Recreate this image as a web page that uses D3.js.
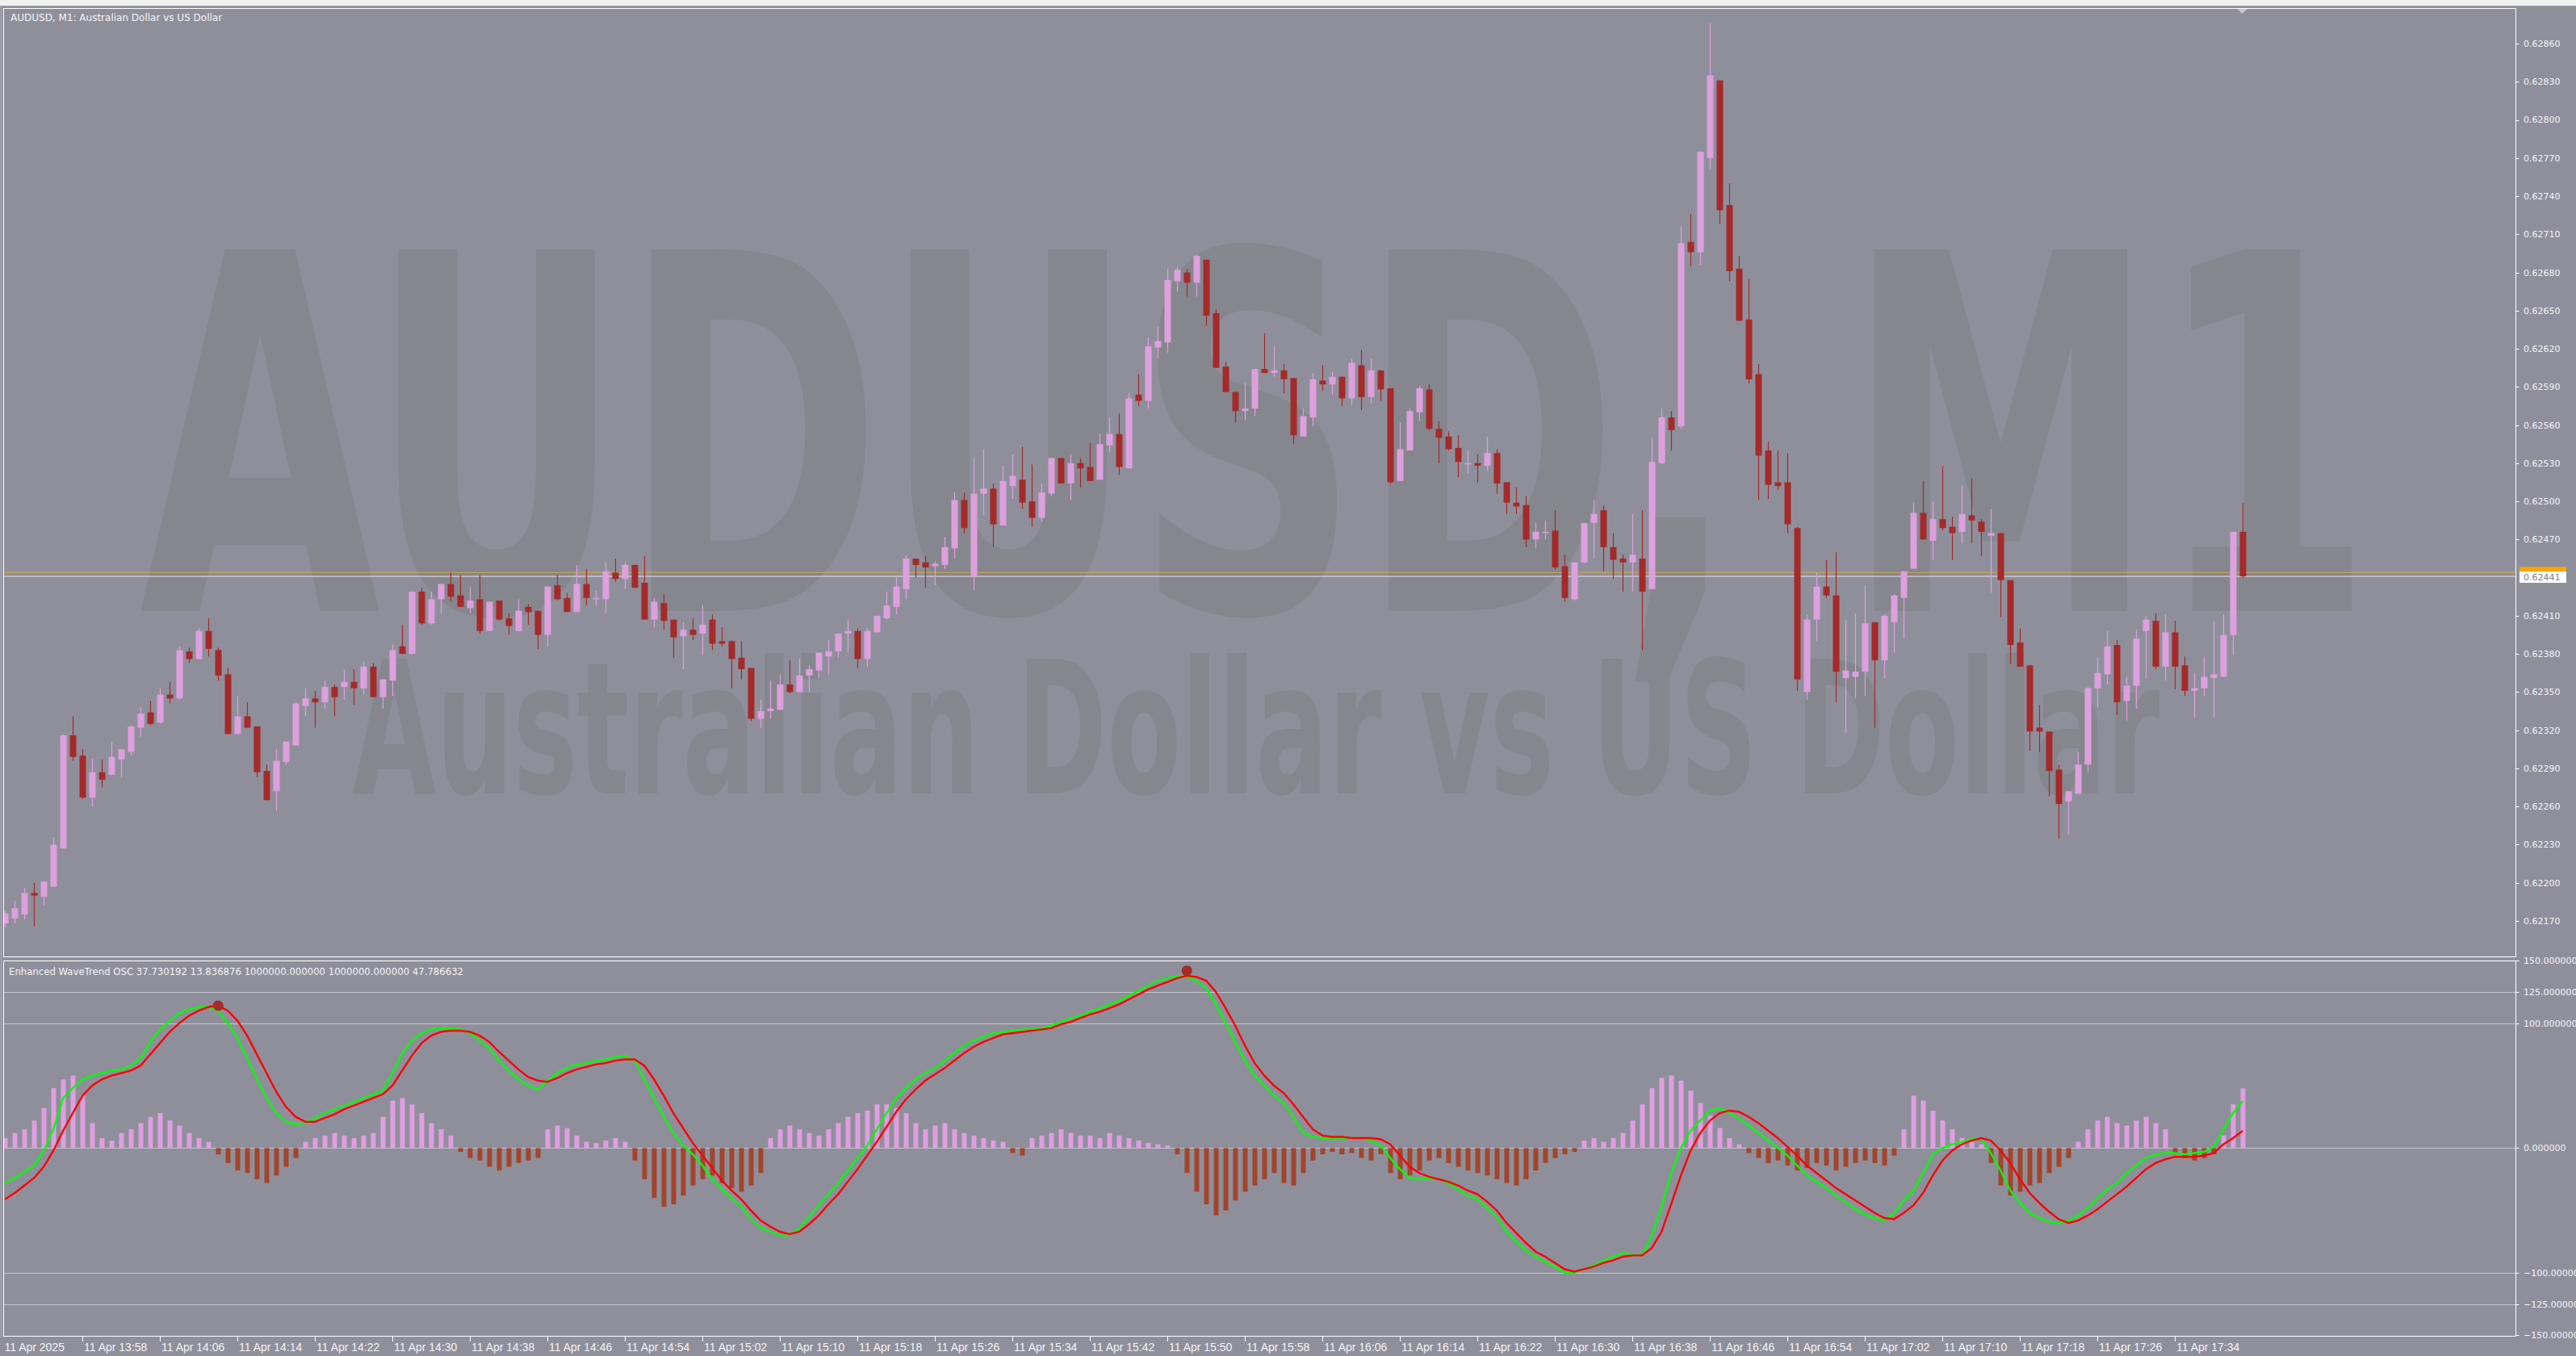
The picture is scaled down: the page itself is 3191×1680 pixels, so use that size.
<!DOCTYPE html>
<html>
<head>
<meta charset="utf-8">
<script src="https://cdn.jsdelivr.net/npm/d3@7"></script>
<style>
  body { margin: 0; background: #8f8f9c; overflow: hidden; }
</style>
</head>
<body>
<div id="chart"></div>
<script>
// ---- data ----
const chartTitle = "AUDUSD, M1:  Australian Dollar vs US Dollar";
const watermarkMain = "AUDUSD, M1";
const watermarkSub = "Australian Dollar vs US Dollar";
const oscTitle = "Enhanced WaveTrend OSC 37.730192 13.836876 1000000.000000 1000000.000000 47.786632";

const timeLabels = ["11 Apr 2025", "11 Apr 13:58", "11 Apr 14:06", "11 Apr 14:14", "11 Apr 14:22", "11 Apr 14:30",
  "11 Apr 14:38", "11 Apr 14:46", "11 Apr 14:54", "11 Apr 15:02", "11 Apr 15:10", "11 Apr 15:18", "11 Apr 15:26",
  "11 Apr 15:34", "11 Apr 15:42", "11 Apr 15:50", "11 Apr 15:58", "11 Apr 16:06", "11 Apr 16:14", "11 Apr 16:22",
  "11 Apr 16:30", "11 Apr 16:38", "11 Apr 16:46", "11 Apr 16:54", "11 Apr 17:02", "11 Apr 17:10", "11 Apr 17:18",
  "11 Apr 17:26", "11 Apr 17:34"];
// bar index of each time label
const timeLabelBars = [0, 8, 16, 24, 32, 40, 48, 56, 64, 72, 80, 88, 96, 104, 112, 120, 128, 136, 144, 152, 160,
  168, 176, 184, 192, 200, 208, 216, 224];

const priceTicks = [0.62860, 0.62830, 0.62800, 0.62770, 0.62740, 0.62710, 0.62680, 0.62650, 0.62620, 0.62590,
  0.62560, 0.62530, 0.62500, 0.62470, 0.62410, 0.62380, 0.62350, 0.62320, 0.62290, 0.62260, 0.62230, 0.62200, 0.62170];
const bidPrice = 0.62441;
const askPrice = 0.62444;

const open = [
  0.62168,0.62172,0.62175,0.62192,0.62189,0.62197,0.62227,0.62316,0.62300,0.62267,
  0.62287,0.62285,0.62297,0.62303,0.62322,0.62334,0.62326,0.62348,0.62345,0.62382,
  0.62376,0.62398,0.62383,0.62364,0.62317,0.62331,0.62323,0.62288,0.62272,0.62295,
  0.62308,0.62339,0.62345,0.62342,0.62354,0.62354,0.62358,0.62353,0.62370,0.62346,
  0.62359,0.62386,0.62380,0.62429,0.62404,0.62423,0.62435,0.62426,0.62416,0.62423,
  0.62398,0.62422,0.62408,0.62398,0.62417,0.62414,0.62395,0.62434,0.62424,0.62413,
  0.62435,0.62424,0.62423,0.62444,0.62439,0.62450,0.62436,0.62407,0.62420,0.62407,
  0.62394,0.62399,0.62396,0.62407,0.62390,0.62390,0.62377,0.62369,0.62329,0.62335,
  0.62336,0.62356,0.62350,0.62363,0.62367,0.62378,0.62382,0.62396,0.62398,0.62376,
  0.62397,0.62408,0.62417,0.62431,0.62455,0.62452,0.62449,0.62450,0.62463,0.62501,
  0.62441,0.62506,0.62510,0.62481,0.62512,0.62517,0.62500,0.62487,0.62506,0.62534,
  0.62514,0.62530,0.62527,0.62517,0.62544,0.62553,0.62526,0.62584,0.62579,0.62621,
  0.62625,0.62673,0.62680,0.62672,0.62690,0.62648,0.62606,0.62586,0.62571,0.62573,
  0.62604,0.62601,0.62603,0.62597,0.62551,0.62566,0.62595,0.62592,0.62598,0.62581,
  0.62607,0.62582,0.62603,0.62589,0.62516,0.62540,0.62570,0.62588,0.62557,0.62551,
  0.62542,0.62530,0.62530,0.62528,0.62538,0.62515,0.62499,0.62497,0.62470,0.62476,
  0.62477,0.62449,0.62423,0.62452,0.62483,0.62493,0.62464,0.62455,0.62452,0.62455,
  0.62431,0.62530,0.62566,0.62559,0.62704,0.62696,0.62770,0.62831,0.62733,0.62683,
  0.62643,0.62600,0.62540,0.62515,0.62515,0.62479,0.62350,0.62407,0.62433,0.62426,
  0.62361,0.62362,0.62366,0.62405,0.62375,0.62405,0.62424,0.62447,0.62491,0.62469,
  0.62486,0.62480,0.62476,0.62489,0.62484,0.62473,0.62475,0.62438,0.62389,0.62371,
  0.62322,0.62319,0.62289,0.62264,0.62270,0.62293,0.62353,0.62364,0.62387,0.62343,
  0.62355,0.62398,0.62406,0.62370,0.62397,0.62371,0.62351,0.62353,0.62361,0.62362,
  0.62395,0.62476];
const high = [
  0.62178,0.62186,0.62196,0.62200,0.62201,0.62236,0.62317,0.62331,0.62305,0.62298,
  0.62297,0.62311,0.62305,0.62324,0.62338,0.62343,0.62353,0.62358,0.62386,0.62385,
  0.62400,0.62408,0.62385,0.62369,0.62347,0.62342,0.62323,0.62293,0.62305,0.62311,
  0.62342,0.62353,0.62351,0.62359,0.62356,0.62368,0.62368,0.62374,0.62373,0.62360,
  0.62387,0.62403,0.62429,0.62432,0.62429,0.62435,0.62444,0.62442,0.62433,0.62442,
  0.62421,0.62422,0.62412,0.62423,0.62419,0.62414,0.62433,0.62442,0.62428,0.62450,
  0.62447,0.62430,0.62452,0.62455,0.62452,0.62450,0.62457,0.62424,0.62427,0.62407,
  0.62405,0.62408,0.62418,0.62411,0.62401,0.62391,0.62390,0.62369,0.62344,0.62359,
  0.62364,0.62375,0.62376,0.62371,0.62381,0.62391,0.62396,0.62407,0.62400,0.62400,
  0.62410,0.62429,0.62440,0.62457,0.62455,0.62457,0.62453,0.62472,0.62507,0.62507,
  0.62534,0.62541,0.62514,0.62528,0.62537,0.62543,0.62529,0.62514,0.62534,0.62534,
  0.62537,0.62534,0.62546,0.62553,0.62566,0.62569,0.62585,0.62600,0.62629,0.62637,
  0.62683,0.62684,0.62683,0.62694,0.62690,0.62651,0.62610,0.62586,0.62593,0.62604,
  0.62632,0.62622,0.62608,0.62597,0.62573,0.62601,0.62607,0.62602,0.62598,0.62612,
  0.62619,0.62612,0.62603,0.62589,0.62562,0.62573,0.62591,0.62592,0.62563,0.62555,
  0.62552,0.62540,0.62537,0.62551,0.62541,0.62515,0.62511,0.62504,0.62483,0.62485,
  0.62493,0.62458,0.62452,0.62483,0.62501,0.62497,0.62475,0.62458,0.62490,0.62493,
  0.62550,0.62573,0.62571,0.62716,0.62726,0.62775,0.62876,0.62831,0.62750,0.62693,
  0.62675,0.62608,0.62547,0.62540,0.62538,0.62480,0.62411,0.62444,0.62454,0.62460,
  0.62407,0.62412,0.62434,0.62405,0.62411,0.62427,0.62445,0.62499,0.62516,0.62500,
  0.62528,0.62488,0.62513,0.62518,0.62486,0.62494,0.62475,0.62438,0.62400,0.62371,
  0.62340,0.62319,0.62293,0.62272,0.62303,0.62354,0.62377,0.62398,0.62391,0.62362,
  0.62399,0.62410,0.62412,0.62411,0.62406,0.62378,0.62365,0.62378,0.62406,0.62411,
  0.62476,0.62499];
const low = [
  0.62165,0.62168,0.62171,0.62166,0.62182,0.62197,0.62227,0.62296,0.62266,0.62260,
  0.62275,0.62285,0.62283,0.62300,0.62315,0.62324,0.62325,0.62341,0.62344,0.62373,
  0.62376,0.62378,0.62359,0.62317,0.62317,0.62322,0.62283,0.62265,0.62257,0.62293,
  0.62308,0.62331,0.62322,0.62337,0.62331,0.62344,0.62340,0.62348,0.62346,0.62337,
  0.62347,0.62380,0.62380,0.62403,0.62403,0.62412,0.62421,0.62417,0.62412,0.62396,
  0.62398,0.62406,0.62395,0.62398,0.62403,0.62384,0.62386,0.62422,0.62413,0.62413,
  0.62418,0.62418,0.62412,0.62437,0.62431,0.62432,0.62407,0.62401,0.62399,0.62377,
  0.62368,0.62391,0.62379,0.62383,0.62386,0.62353,0.62360,0.62327,0.62322,0.62329,
  0.62336,0.62349,0.62350,0.62350,0.62361,0.62364,0.62377,0.62381,0.62369,0.62370,
  0.62397,0.62407,0.62411,0.62423,0.62440,0.62432,0.62434,0.62447,0.62455,0.62475,
  0.62430,0.62489,0.62464,0.62481,0.62502,0.62494,0.62480,0.62484,0.62504,0.62514,
  0.62501,0.62511,0.62516,0.62517,0.62539,0.62521,0.62526,0.62575,0.62573,0.62612,
  0.62617,0.62665,0.62661,0.62661,0.62638,0.62605,0.62586,0.62562,0.62564,0.62567,
  0.62601,0.62598,0.62585,0.62545,0.62551,0.62559,0.62587,0.62584,0.62575,0.62576,
  0.62572,0.62577,0.62579,0.62514,0.62516,0.62540,0.62563,0.62556,0.62530,0.62540,
  0.62519,0.62522,0.62515,0.62524,0.62506,0.62490,0.62490,0.62464,0.62463,0.62470,
  0.62446,0.62421,0.62422,0.62451,0.62455,0.62445,0.62439,0.62429,0.62429,0.62383,
  0.62431,0.62529,0.62540,0.62557,0.62685,0.62686,0.62761,0.62718,0.62673,0.62642,
  0.62593,0.62501,0.62502,0.62509,0.62475,0.62351,0.62344,0.62390,0.62424,0.62342,
  0.62318,0.62345,0.62347,0.62322,0.62361,0.62381,0.62392,0.62447,0.62470,0.62454,
  0.62477,0.62454,0.62467,0.62467,0.62457,0.62428,0.62409,0.62372,0.62370,0.62304,
  0.62303,0.62268,0.62235,0.62238,0.62270,0.62287,0.62338,0.62356,0.62332,0.62327,
  0.62337,0.62361,0.62368,0.62359,0.62352,0.62347,0.62330,0.62347,0.62330,0.62362,
  0.62379,0.62440];
const close = [
  0.62176,0.62180,0.62192,0.62190,0.62201,0.62230,0.62316,0.62299,0.62267,0.62287,
  0.62281,0.62299,0.62305,0.62323,0.62333,0.62325,0.62348,0.62345,0.62383,0.62376,
  0.62398,0.62384,0.62363,0.62317,0.62331,0.62322,0.62287,0.62265,0.62296,0.62311,
  0.62341,0.62345,0.62342,0.62354,0.62346,0.62358,0.62353,0.62370,0.62346,0.62360,
  0.62383,0.62380,0.62429,0.62404,0.62423,0.62435,0.62425,0.62417,0.62422,0.62398,
  0.62421,0.62407,0.62402,0.62414,0.62413,0.62395,0.62433,0.62423,0.62413,0.62435,
  0.62424,0.62424,0.62445,0.62439,0.62450,0.62432,0.62407,0.62421,0.62406,0.62393,
  0.62399,0.62395,0.62403,0.62388,0.62388,0.62376,0.62368,0.62329,0.62335,0.62337,
  0.62356,0.62350,0.62363,0.62368,0.62381,0.62382,0.62396,0.62398,0.62376,0.62398,
  0.62410,0.62418,0.62433,0.62455,0.62450,0.62448,0.62451,0.62464,0.62501,0.62479,
  0.62506,0.62510,0.62482,0.62516,0.62520,0.62499,0.62487,0.62507,0.62534,0.62514,
  0.62530,0.62526,0.62516,0.62545,0.62553,0.62527,0.62581,0.62579,0.62622,0.62626,
  0.62674,0.62682,0.62672,0.62693,0.62646,0.62605,0.62586,0.62571,0.62573,0.62604,
  0.62601,0.62603,0.62596,0.62552,0.62567,0.62596,0.62592,0.62598,0.62581,0.62609,
  0.62582,0.62603,0.62588,0.62515,0.62541,0.62571,0.62589,0.62557,0.62550,0.62541,
  0.62531,0.62530,0.62528,0.62538,0.62514,0.62499,0.62496,0.62470,0.62476,0.62476,
  0.62448,0.62424,0.62452,0.62483,0.62490,0.62464,0.62454,0.62452,0.62458,0.62429,
  0.62531,0.62566,0.62556,0.62703,0.62696,0.62775,0.62835,0.62729,0.62681,0.62642,
  0.62596,0.62536,0.62513,0.62512,0.62482,0.62360,0.62407,0.62433,0.62426,0.62366,
  0.62367,0.62366,0.62404,0.62375,0.62410,0.62426,0.62445,0.62491,0.62470,0.62486,
  0.62479,0.62475,0.62490,0.62485,0.62476,0.62475,0.62438,0.62387,0.62370,0.62319,
  0.62319,0.62288,0.62262,0.62272,0.62293,0.62353,0.62365,0.62386,0.62342,0.62355,
  0.62392,0.62407,0.62370,0.62397,0.62370,0.62351,0.62353,0.62362,0.62364,0.62395,
  0.62476,0.62441];

// oscillator
const oscTicks = [150, 125, 100, 0, -100, -125, -150];
const oscLevels = [125, 100, 0, -100, -125];
const wt1 = [
  -28,-24,-19,-14,-2,15,40,48,55,58, 60,62,63,66,72,85,95,102,108,111,
  113,113,110,100,88,72,55,40,28,21, 19,20,24,28,31,34,37,40,43,46,
  60,76,86,92,95,96,96,95,92,86, 80,70,62,55,50,47,54,60,64,67,
  68,70,71,73,74,70,55,40,25,12, 2,-5,-14,-25,-33,-40,-47,-57,-64,-67,
  -70,-70,-64,-55,-46,-37,-28,-18,-8,2, 15,28,40,48,55,60,64,70,76,82,
  86,89,92,93,94,95,95,96,98,101, 104,106,109,112,115,118,122,126,130,134,
  136,138,137,134,128,115,100,85,70,58, 50,42,36,25,12,9,8,8,8,8,
  8,6,2,-8,-17,-24,-25,-24,-25,-28, -33,-38,-41,-48,-55,-67,-75,-82,-87,-91,
  -95,-100,-100,-97,-94,-90,-87,-84,-85,-86, -70,-47,-20,0,14,22,30,32,28,24,
  18,12,6,0,-6,-14,-22,-27,-32,-38, -43,-49,-53,-56,-58,-52,-42,-34,-20,-5,
  0,3,5,7,8,-4,-18,-34,-44,-52, -56,-59,-60,-58,-54,-48,-40,-33,-28,-20,
  -14,-8,-5,-4,-4,-5,-4,-3,1,15, 28,37.73];
const wt2 = [
  -41,-36,-30,-24,-15,-2,14,28,42,50, 55,58,60,62,66,75,84,93,100,106,
  110,113,114,110,102,90,75,60,45,33, 25,21,21,24,27,31,34,37,40,43,
  50,62,74,84,90,93,94,94,93,90, 85,77,70,63,57,54,53,56,60,63,
  65,67,68,70,71,71,66,55,42,28, 16,4,-6,-16,-26,-34,-41,-50,-58,-63,
  -67,-69,-67,-61,-54,-45,-37,-27,-17,-6, 5,17,29,39,47,54,59,64,70,76,
  81,85,88,91,92,93,94,95,96,99, 101,104,107,109,112,115,119,123,127,130,
  133,136,138,137,134,125,112,98,82,68, 58,50,44,35,25,15,10,9,9,8,
  8,8,7,3,-6,-15,-20,-23,-25,-27, -30,-34,-37,-43,-50,-60,-68,-76,-83,-87,
  -92,-97,-99,-97,-95,-92,-90,-87,-86,-86, -80,-67,-45,-22,-2,12,22,28,30,29,
  25,20,14,8,1,-6,-14,-20,-26,-32, -37,-42,-47,-52,-56,-57,-52,-46,-36,-22,
  -10,-2,3,6,8,6,-2,-12,-25,-36, -44,-51,-57,-60,-58,-54,-49,-43,-37,-31,
  -24,-17,-12,-9,-7,-7,-7,-6,-4,3, 8,13.84];
const hist = [
  8,12,15,22,32,48,55,58,42,20, 8,6,12,15,20,25,28,22,18,12,
  8,5,-5,-12,-18,-20,-25,-28,-22,-15, -8,5,8,10,12,10,8,10,12,25,
  38,40,35,28,20,15,10,-3,-8,-10, -15,-18,-15,-12,-10,-8,15,18,16,10,
  5,4,6,8,5,-10,-25,-40,-47,-45, -38,-30,-25,-22,-28,-32,-35,-30,-20,8,
  15,18,15,12,10,15,20,25,28,30, 35,35,32,28,20,15,18,20,15,12,
  10,8,6,5,-4,-6,8,10,12,15, 12,10,10,8,12,10,8,6,4,3,
  2,-5,-20,-35,-45,-54,-50,-42,-35,-30, -25,-20,-28,-30,-20,-10,-5,-3,-5,-4,
  -8,-10,-5,-20,-25,-22,-18,-10,-8,-12, -15,-18,-20,-22,-25,-28,-30,-25,-18,-12,
  -8,-5,-3,6,8,5,8,12,22,35, 48,56,58,54,46,36,26,16,8,3,
  -4,-8,-12,-10,-14,-18,-16,-12,-14,-18, -15,-12,-10,-12,-14,-6,15,42,38,30,
  22,15,8,5,3,-12,-30,-38,-35,-30, -28,-20,-15,-8,5,15,22,25,20,18,
  22,25,20,15,-5,-8,-10,-8,-5,10, 35,47.79];
// signal dots (bar index, value)
const dotBars = [22, 122];
const dotValues = [114, 142];

// ---- layout ----
const W = 3191, H = 1680;
const mainTop = 10, mainBottom = 1185, panelLeft = 4.5, panelRight = 3116.5;
const oscTop = 1190, oscBottom = 1655;
const bg = "#8f8f9c", bull = "#dda0dd", bear = "#a52a2a", axisText = "#f4f4f4";

const svg = d3.select("#chart").append("svg")
  .attr("width", W).attr("height", H)
  .style("display", "block");

svg.append("rect").attr("width", W).attr("height", H).attr("fill", bg);
// window strip at the top
svg.append("rect").attr("width", W).attr("height", 7).attr("fill", "#f0f0f0");
svg.append("line").attr("x1", 0).attr("x2", W).attr("y1", 7.5).attr("y2", 7.5).attr("stroke", "#a0a0a8");

const x = d3.scaleLinear().domain([0, 231]).range([5.7, 2777.7]);
const y = d3.scaleLinear().domain([0.62170, 0.62860]).range([1141, 54]);
const yo = d3.scaleLinear().domain([-150, 150]).range([1654.4, 1190.3]);

const defs = svg.append("defs");
defs.append("clipPath").attr("id", "clipMain").append("rect")
  .attr("x", 5).attr("y", mainTop + 1).attr("width", panelRight - 5.5).attr("height", mainBottom - mainTop - 1);
defs.append("clipPath").attr("id", "clipOsc").append("rect")
  .attr("x", 5).attr("y", oscTop + 1).attr("width", panelRight - 5.5).attr("height", oscBottom - oscTop - 1);

// ---- main panel ----
const main = svg.append("g").attr("clip-path", "url(#clipMain)");

// watermark, stretched to the width it has in the picture
function watermark(label, size, cx, baseline, width) {
  const t = main.append("text")
    .attr("font-family", "'Liberation Sans Narrow', 'DejaVu Sans Condensed', sans-serif")
    .attr("font-weight", "bold").attr("font-size", size)
    .attr("fill", "#86868f").text(label);
  const w0 = t.node().getComputedTextLength();
  t.attr("transform", `translate(${cx - width / 2},${baseline}) scale(${width / w0},1)`);
}
watermark(watermarkMain, 615, 1556, 757, 2767);
watermark(watermarkSub, 228, 1556, 983, 2239);

// bid / ask lines
main.append("line").attr("x1", 0).attr("x2", panelRight)
  .attr("y1", y(askPrice)).attr("y2", y(askPrice))
  .attr("stroke", "#d8a440").attr("stroke-width", 1);
main.append("line").attr("x1", 0).attr("x2", panelRight)
  .attr("y1", y(bidPrice)).attr("y2", y(bidPrice))
  .attr("stroke", "#e6e6ea").attr("stroke-width", 1);

const bars = d3.range(open.length);
const candle = main.append("g").selectAll("g").data(bars).enter().append("g");
candle.append("line")
  .attr("x1", i => Math.round(x(i)) + 0.5).attr("x2", i => Math.round(x(i)) + 0.5)
  .attr("y1", i => y(high[i])).attr("y2", i => y(low[i]))
  .attr("stroke", i => close[i] >= open[i] ? bull : bear).attr("stroke-width", 1.2);
candle.append("rect")
  .attr("x", i => Math.round(x(i)) - 3.5)
  .attr("width", 8)
  .attr("y", i => y(Math.max(open[i], close[i])))
  .attr("height", i => Math.max(1.5, Math.abs(y(open[i]) - y(close[i]))))
  .attr("fill", i => close[i] >= open[i] ? bull : bear);

svg.append("text").attr("x", 13).attr("y", 26)
  .attr("font-family", "'DejaVu Sans', sans-serif").attr("font-size", 12)
  .attr("fill", axisText).text(chartTitle);

// panel borders
svg.append("rect").attr("x", panelLeft).attr("y", mainTop + 0.5)
  .attr("width", panelRight - panelLeft).attr("height", mainBottom - mainTop)
  .attr("fill", "none").attr("stroke", "#ffffff").attr("stroke-width", 1);
svg.append("line").attr("x1", 1.5).attr("x2", 1.5).attr("y1", 8).attr("y2", oscBottom + 2)
  .attr("stroke", "#b4b4bc");

// chart shift marker
svg.append("path").attr("d", `M${x(231) - 6},${mainTop + 1} h12 l-6,6 z`).attr("fill", "#c8c8d0");

// price axis
const pa = svg.append("g");
priceTicks.forEach(p => {
  pa.append("line").attr("x1", panelRight).attr("x2", panelRight + 4)
    .attr("y1", Math.round(y(p)) + 0.5).attr("y2", Math.round(y(p)) + 0.5).attr("stroke", "#ffffff");
  pa.append("text").attr("x", 3126).attr("y", y(p)).attr("dy", "0.36em")
    .attr("font-family", "'DejaVu Sans', sans-serif").attr("font-size", 11)
    .attr("fill", axisText).text(d3.format(".5f")(p));
});
// ask + bid labels
pa.append("rect").attr("x", 3121).attr("y", y(askPrice) - 7).attr("width", 58).attr("height", 14).attr("fill", "#ffa500");
pa.append("rect").attr("x", 3121).attr("y", y(bidPrice) - 6).attr("width", 58).attr("height", 14).attr("fill", "#ffffff");
pa.append("text").attr("x", 3126).attr("y", y(bidPrice) + 1).attr("dy", "0.36em")
  .attr("font-family", "'DejaVu Sans', sans-serif").attr("font-size", 11)
  .attr("fill", "#7c7c8c").text(d3.format(".5f")(bidPrice));

// ---- oscillator panel ----
const osc = svg.append("g").attr("clip-path", "url(#clipOsc)");
oscLevels.forEach(v => {
  osc.append("line").attr("x1", 0).attr("x2", panelRight)
    .attr("y1", Math.round(yo(v)) + 0.5).attr("y2", Math.round(yo(v)) + 0.5)
    .attr("stroke", "#c4c4cc").attr("stroke-width", 1);
});
osc.append("g").selectAll("rect").data(bars).enter().append("rect")
  .attr("x", i => Math.round(x(i)) - 2.5)
  .attr("width", 6)
  .attr("y", i => Math.min(yo(hist[i]), yo(0)))
  .attr("height", i => Math.abs(yo(hist[i]) - yo(0)))
  .attr("fill", i => hist[i] >= 0 ? "#e09ee0" : "#a3452b");

const lineGen = arr => d3.line().x(i => x(i) + 0.5).y(i => yo(arr[i])).curve(d3.curveLinear)(bars);
osc.append("path").attr("d", lineGen(wt1)).attr("fill", "none").attr("stroke", "#00ff00").attr("stroke-width", 2.4);
osc.append("path").attr("d", lineGen(wt2)).attr("fill", "none").attr("stroke", "#ff0000").attr("stroke-width", 2.4);
osc.append("g").selectAll("circle").data(dotBars).enter().append("circle")
  .attr("cx", (b) => x(b) + 0.5).attr("cy", (b, k) => yo(dotValues[k]))
  .attr("r", 6.5).attr("fill", "#a52a2a");

svg.append("text").attr("x", 11).attr("y", 1208)
  .attr("font-family", "'DejaVu Sans', sans-serif").attr("font-size", 11.7)
  .attr("fill", axisText).text(oscTitle);

svg.append("rect").attr("x", panelLeft).attr("y", oscTop + 0.5)
  .attr("width", panelRight - panelLeft).attr("height", oscBottom - oscTop)
  .attr("fill", "none").attr("stroke", "#ffffff").attr("stroke-width", 1);

// oscillator axis
oscTicks.forEach(v => {
  const yy = Math.round(yo(v)) + 0.5;
  svg.append("line").attr("x1", panelRight).attr("x2", panelRight + 4)
    .attr("y1", yy).attr("y2", yy).attr("stroke", "#ffffff");
  svg.append("text").attr("x", 3126).attr("y", yy).attr("dy", "0.36em")
    .attr("font-family", "'DejaVu Sans', sans-serif").attr("font-size", 11)
    .attr("fill", axisText).text(d3.format(".6f")(v));
});

// ---- time axis ----
timeLabels.forEach((t, k) => {
  const b = timeLabelBars[k];
  const xx = Math.round(x(b)) + 0.5;
  if (k > 0) {
    svg.append("line").attr("x1", xx).attr("x2", xx).attr("y1", oscBottom).attr("y2", oscBottom + 7)
      .attr("stroke", "#ffffff");
  }
  svg.append("text").attr("x", k > 0 ? xx + 1.5 : 5.5).attr("y", 1674)
    .attr("font-family", "'Liberation Sans Narrow', sans-serif").attr("font-size", 14)
    .attr("fill", axisText).text(t);
});
</script>
</body>
</html>
